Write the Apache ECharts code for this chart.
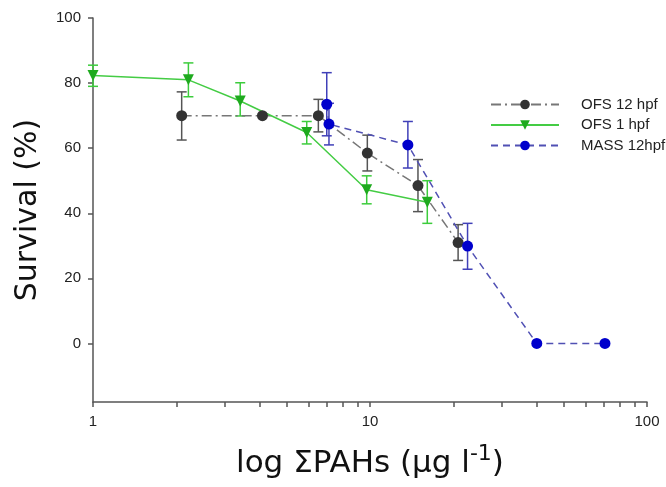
<!DOCTYPE html>
<html>
<head>
<meta charset="utf-8">
<script src="https://cdn.jsdelivr.net/npm/echarts@6/dist/echarts.min.js"></script>
<style>
  html, body { margin: 0; padding: 0; background: #fff; }
  #chart { width: 666px; height: 487px; }
</style>
</head>
<body>
<div id="chart"></div>
<script>
// OFS 12 hpf
var ofs12X = [2.09, 4.09, 6.51, 9.78, 14.9, 20.8];
var ofs12Y = [70, 70, 70, 58.5, 48.5, 31];
var ofs12Hi = [77.3, null, 75, 64, 56.5, 36.5];
var ofs12Lo = [62.5, null, 65, 53, 40.5, 25.5];

// OFS 1 hpf
var ofs1X = [1, 2.21, 3.4, 5.91, 9.73, 16.1];
var ofs1Y = [82.3, 81, 74.5, 64.8, 47.2, 43.4];
var ofs1Hi = [85.5, 86.2, 80.1, 68.2, 51.5, 50];
var ofs1Lo = [79, 75.8, 69.9, 61.3, 42.9, 36.9];

// MASS 12hpf
var massX = [6.98, 7.11, 13.7, 22.5, 40, 70.5];
var massY = [73.5, 67.4, 61, 29.9, 0, 0];
var massHi = [83.2, 73.8, 68.2, 36.9, null, null];
var massLo = [63.8, 61, 53.9, 22.8, null, null];

var yTicks = [0, 20, 40, 60, 80, 100];
var xLabels = [1, 10, 100];
var xTicks = [1, 2, 3, 4, 5, 6, 7, 8, 9, 10, 20, 30, 40, 50, 60, 70, 80, 90, 100];

var FONT = 'Liberation Sans, Arial, sans-serif';
var TITLE_FONT = 'DejaVu Sans, sans-serif';

function pairs(xs, ys) {
    var out = [];
    for (var i = 0; i < xs.length; i++) {
        out.push([xs[i], ys[i]]);
    }
    return out;
}

function errData(xs, lo, hi) {
    var out = [];
    for (var i = 0; i < xs.length; i++) {
        if (lo[i] != null && hi[i] != null) {
            out.push([xs[i], lo[i], hi[i]]);
        }
    }
    return out;
}

function errSeries(name, data, color) {
    return {
        name: name + ' err',
        type: 'custom',
        data: data,
        z: 1,
        silent: true,
        clip: false,
        renderItem: function (params, api) {
            var top = api.coord([api.value(0), api.value(2)]);
            var bot = api.coord([api.value(0), api.value(1)]);
            var w = 5;
            var st = { stroke: color, lineWidth: 1.5 };
            return {
                type: 'group',
                children: [
                    { type: 'line', shape: { x1: top[0], y1: top[1], x2: bot[0], y2: bot[1] }, style: st },
                    { type: 'line', shape: { x1: top[0] - w, y1: top[1], x2: top[0] + w, y2: top[1] }, style: st },
                    { type: 'line', shape: { x1: bot[0] - w, y1: bot[1], x2: bot[0] + w, y2: bot[1] }, style: st }
                ]
            };
        }
    };
}

var axisLineStyle = { color: '#555', width: 1.5 };

var option = {
    animation: false,
    backgroundColor: '#fff',
    grid: { left: 93, right: 19, top: 18, bottom: 85 },
    legend: {
        data: ['OFS 12 hpf', 'OFS 1 hpf', 'MASS 12hpf'],
        orient: 'vertical',
        left: 490,
        top: 97,
        padding: 0,
        itemWidth: 68,
        itemHeight: 12,
        itemGap: 5.5,
        textStyle: { fontFamily: FONT, fontSize: 15, color: '#222', padding: [0, 0, 0, 17] }
    },
    xAxis: {
        type: 'log',
        logBase: 10,
        min: 1,
        max: 100,
        name: '{a|log ΣPAHs (μg l}{sup|-1}{a|)}',
        nameLocation: 'middle',
        nameGap: 41,
        nameTextStyle: {
            rich: {
                a: { fontFamily: TITLE_FONT, fontSize: 31, color: '#111', lineHeight: 36, verticalAlign: 'bottom' },
                sup: { fontFamily: TITLE_FONT, fontSize: 22, color: '#111', lineHeight: 22, verticalAlign: 'top' }
            }
        },
        axisLine: { onZero: false, lineStyle: axisLineStyle },
        axisTick: { inside: false, length: 5, lineStyle: axisLineStyle, customValues: xTicks },
        axisLabel: { customValues: xLabels, margin: 12, fontFamily: FONT, fontSize: 15, color: '#222' },
        splitLine: { show: false },
        minorTick: { show: false }
    },
    yAxis: {
        type: 'value',
        min: -18,
        max: 100,
        name: 'Survival (%)',
        nameLocation: 'middle',
        nameGap: 50,
        nameTextStyle: { fontFamily: TITLE_FONT, fontSize: 30, color: '#111' },
        axisLine: { show: true, onZero: false, lineStyle: axisLineStyle },
        axisTick: { show: true, inside: false, length: 5, lineStyle: axisLineStyle, customValues: yTicks },
        axisLabel: { customValues: yTicks, margin: 12, fontFamily: FONT, fontSize: 15, color: '#222' },
        splitLine: { show: false }
    },
    series: [
        errSeries('OFS 12 hpf', errData(ofs12X, ofs12Lo, ofs12Hi), '#555'),
        errSeries('OFS 1 hpf', errData(ofs1X, ofs1Lo, ofs1Hi), '#3ccc3c'),
        errSeries('MASS 12hpf', errData(massX, massLo, massHi), '#4040b8'),
        {
            name: 'OFS 12 hpf',
            type: 'line',
            data: pairs(ofs12X, ofs12Y),
            z: 3,
            symbol: 'circle',
            symbolSize: 11,
            itemStyle: { color: '#333' },
            lineStyle: { color: '#777', width: 1.5, type: [10, 4, 2, 4] }
        },
        {
            name: 'OFS 1 hpf',
            type: 'line',
            data: pairs(ofs1X, ofs1Y),
            z: 3,
            symbol: 'triangle',
            symbolRotate: 180,
            symbolSize: 11,
            itemStyle: { color: '#1eaa1e' },
            lineStyle: { color: '#44cc44', width: 1.5 }
        },
        {
            name: 'MASS 12hpf',
            type: 'line',
            data: pairs(massX, massY),
            z: 3,
            symbol: 'circle',
            symbolSize: 11,
            itemStyle: { color: '#0000cc' },
            lineStyle: { color: '#5050b4', width: 1.5, type: [7, 5] }
        }
    ]
};

var myChart = echarts.init(document.getElementById('chart'));
myChart.setOption(option);
</script>
</body>
</html>
